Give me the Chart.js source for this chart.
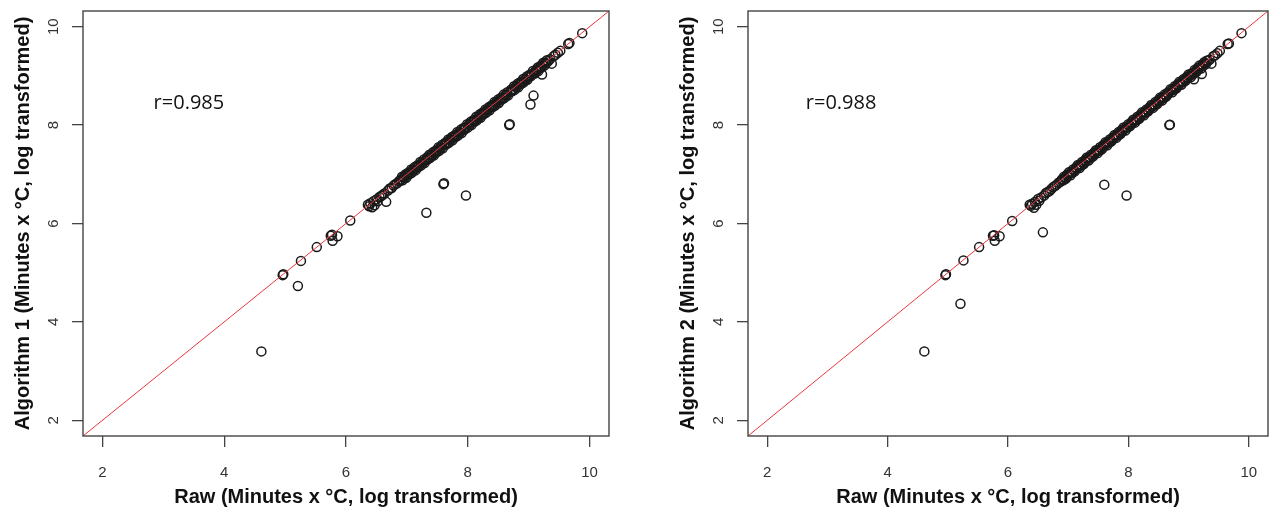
<!DOCTYPE html>
<html>
<head>
<meta charset="utf-8">
<script src="https://cdn.jsdelivr.net/npm/chart.js@4/dist/chart.umd.min.js"></script>
<style>
  body { margin: 0; background: #fff; }
  #wrap { position: relative; width: 1274px; height: 509px; }
  #left { position: absolute; left: 0; top: 0; }
  #right { position: absolute; left: 665px; top: 0; }
</style>
</head>
<body>
<div id="wrap">
  <canvas id="left" width="637" height="509"></canvas>
  <canvas id="right" width="609" height="509"></canvas>
</div>
<script>
// axis range and ticks (R style, 4% extension)
var axisMin = 1.68;
var axisMax = 10.32;
var tickValues = [2, 4, 6, 8, 10];

var xTitle = "Raw (Minutes x °C, log transformed)";
var yTitles = ["Algorithm 1 (Minutes x °C, log transformed)", "Algorithm 2 (Minutes x °C, log transformed)"];
var rLabels = ["r=0.985", "r=0.988"];
var rPos = [[2.84, 8.44], [2.64, 8.44]];

// raw value of each sample, and the two algorithm values for it
var rawValues = [
  // low end
  4.61, 4.96, 4.97, 5.21, 5.26, 5.52, 5.75, 5.77, 5.78, 5.86, 6.07,
  6.36, 6.38, 6.40, 6.43, 6.45, 6.47, 6.50, 6.52, 6.55, 6.58, 6.60, 6.63, 6.66, 6.69, 6.72,
  6.75, 6.78, 6.81, 6.84, 6.87, 6.89,
  // dense band
  6.90, 6.92, 6.93, 6.95, 6.96, 6.98, 6.99, 7.01, 7.02, 7.04,
  7.05, 7.07, 7.08, 7.10, 7.11, 7.13, 7.14, 7.16, 7.17, 7.19,
  7.20, 7.22, 7.23, 7.25, 7.26, 7.28, 7.29, 7.31, 7.33, 7.34,
  7.35, 7.37, 7.38, 7.40, 7.41, 7.43, 7.44, 7.46, 7.47, 7.49,
  7.50, 7.52, 7.53, 7.55, 7.56, 7.58, 7.59, 7.62, 7.63, 7.65,
  7.66, 7.68, 7.69, 7.71, 7.72, 7.74, 7.75, 7.77, 7.78, 7.80,
  7.81, 7.83, 7.84, 7.86, 7.87, 7.89, 7.90, 7.92, 7.93, 7.95,
  7.96, 7.99, 8.00, 8.02, 8.03, 8.05, 8.06, 8.08, 8.09, 8.11,
  8.12, 8.14, 8.15, 8.17, 8.18, 8.20, 8.21, 8.23, 8.24, 8.26,
  8.27, 8.29, 8.30, 8.32, 8.33, 8.35, 8.36, 8.38, 8.39, 8.41,
  8.42, 8.44, 8.45, 8.47, 8.48, 8.50, 8.51, 8.53, 8.54, 8.56,
  8.57, 8.59, 8.60, 8.62, 8.63, 8.65, 8.66, 8.70, 8.71, 8.73,
  8.74, 8.76, 8.77, 8.79, 8.80, 8.82, 8.83, 8.85, 8.86, 8.88,
  8.89, 8.91, 8.92, 8.94, 8.95, 8.97, 8.98, 9.00, 9.01, 9.04,
  9.05, 9.07, 9.10, 9.12, 9.13, 9.15, 9.16, 9.18, 9.19, 9.21,
  9.23, 9.24, 9.26, 9.27, 9.29, 9.30,
  // outliers and top end
  7.32, 7.60, 7.61, 7.97, 8.68, 8.69, 9.03, 9.08, 9.09, 9.22,
  9.32, 9.35, 9.38, 9.41, 9.44, 9.48, 9.52, 9.65, 9.67, 9.88
];
var algorithm1 = [
  3.40, 4.95, 4.97, 4.73, 5.24, 5.52, 5.75, 5.77, 5.65, 5.74, 6.06,
  6.38, 6.35, 6.41, 6.33, 6.45, 6.37, 6.49, 6.45, 6.54, 6.56, 6.58, 6.61, 6.44, 6.67, 6.71,
  6.72, 6.77, 6.80, 6.82, 6.86, 6.87,
  6.89, 6.95, 6.88, 6.95, 6.93, 7.00, 6.93, 6.99, 7.03, 7.00,
  7.04, 7.10, 7.03, 7.10, 7.08, 7.15, 7.08, 7.14, 7.18, 7.15,
  7.19, 7.25, 7.18, 7.25, 7.23, 7.30, 7.23, 7.29, 7.34, 7.30,
  7.34, 7.40, 7.33, 7.40, 7.38, 7.45, 7.38, 7.44, 7.48, 7.45,
  7.49, 7.55, 7.48, 7.55, 7.53, 7.60, 7.53, 7.60, 7.64, 7.61,
  7.65, 7.71, 7.64, 7.71, 7.69, 7.76, 7.69, 7.75, 7.79, 7.76,
  7.80, 7.86, 7.79, 7.86, 7.84, 7.91, 7.84, 7.90, 7.94, 7.91,
  7.95, 8.02, 7.95, 8.02, 8.00, 8.07, 8.00, 8.06, 8.10, 8.07,
  8.11, 8.17, 8.10, 8.17, 8.15, 8.22, 8.15, 8.21, 8.25, 8.22,
  8.26, 8.32, 8.25, 8.32, 8.30, 8.37, 8.30, 8.36, 8.40, 8.37,
  8.41, 8.47, 8.40, 8.47, 8.45, 8.52, 8.45, 8.51, 8.55, 8.52,
  8.56, 8.62, 8.55, 8.62, 8.60, 8.67, 8.60, 8.68, 8.72, 8.69,
  8.73, 8.79, 8.72, 8.79, 8.77, 8.84, 8.77, 8.83, 8.87, 8.84,
  8.88, 8.94, 8.87, 8.94, 8.92, 8.99, 8.92, 8.98, 9.02, 9.00,
  9.04, 9.10, 9.05, 9.12, 9.10, 9.17, 9.10, 9.16, 9.20, 9.17,
  9.22, 9.27, 9.21, 9.27, 9.26, 9.32,
  6.22, 6.80, 6.82, 6.57, 8.00, 8.02, 8.42, 8.60, 9.07, 9.03,
  9.30, 9.34, 9.25, 9.40, 9.43, 9.47, 9.51, 9.65, 9.67, 9.87
];
var algorithm2 = [
  3.40, 4.95, 4.97, 4.37, 5.25, 5.52, 5.75, 5.76, 5.65, 5.74, 6.05,
  6.38, 6.36, 6.40, 6.32, 6.44, 6.38, 6.50, 6.46, 6.53, 5.82, 6.57, 6.62, 6.64, 6.66, 6.70,
  6.74, 6.76, 6.79, 6.83, 6.85, 6.88,
  6.90, 6.88, 6.95, 6.93, 6.91, 6.99, 6.96, 7.04, 7.01, 6.98,
  7.05, 7.03, 7.10, 7.08, 7.06, 7.14, 7.11, 7.19, 7.16, 7.13,
  7.20, 7.18, 7.25, 7.23, 7.21, 7.29, 7.26, 7.34, 7.32, 7.28,
  7.35, 7.33, 7.40, 7.38, 7.36, 7.44, 7.41, 7.49, 7.46, 7.43,
  7.50, 7.48, 7.55, 7.53, 7.51, 7.59, 7.56, 7.65, 7.62, 7.59,
  7.66, 7.64, 7.71, 7.69, 7.67, 7.75, 7.72, 7.80, 7.77, 7.74,
  7.81, 7.79, 7.86, 7.84, 7.82, 7.90, 7.87, 7.95, 7.92, 7.89,
  7.96, 7.95, 8.02, 8.00, 7.98, 8.06, 8.03, 8.11, 8.08, 8.05,
  8.12, 8.10, 8.17, 8.15, 8.13, 8.21, 8.18, 8.26, 8.23, 8.20,
  8.27, 8.25, 8.32, 8.30, 8.28, 8.36, 8.33, 8.41, 8.38, 8.35,
  8.42, 8.40, 8.47, 8.45, 8.43, 8.51, 8.48, 8.56, 8.53, 8.50,
  8.57, 8.55, 8.62, 8.60, 8.58, 8.66, 8.63, 8.73, 8.70, 8.67,
  8.74, 8.72, 8.79, 8.77, 8.75, 8.83, 8.80, 8.88, 8.85, 8.82,
  8.89, 8.87, 8.94, 8.92, 8.90, 8.98, 8.95, 9.03, 9.00, 8.98,
  9.05, 9.03, 9.12, 9.10, 9.08, 9.16, 9.13, 9.21, 9.18, 9.15,
  9.23, 9.20, 9.28, 9.25, 9.24, 9.31,
  7.31, 6.79, 7.60, 6.57, 8.00, 8.01, 9.02, 9.06, 8.93, 9.04,
  9.31, 9.33, 9.25, 9.40, 9.42, 9.46, 9.51, 9.65, 9.66, 9.87
];

var tickFont = { family: "'Liberation Sans', Arial, sans-serif", size: 15 };
var titleFont = { family: "'Liberation Sans', Arial, sans-serif", size: 20, weight: "bold" };

// frame around the plot + the r= note
var framePlugin = {
  id: "frame",
  afterDatasetsDraw: function (chart) {
    var ca = chart.chartArea;
    var ctx = chart.ctx;
    ctx.save();
    ctx.strokeStyle = "#444";
    ctx.lineWidth = 1.4;
    ctx.strokeRect(ca.left, ca.top, ca.right - ca.left, ca.bottom - ca.top);
    var p = chart.options.plugins.frame;
    ctx.fillStyle = "#111";
    ctx.font = "20px 'Open Sans', sans-serif";
    ctx.textAlign = "left";
    ctx.textBaseline = "middle";
    ctx.fillText(p.label, chart.scales.x.getPixelForValue(p.at[0]), chart.scales.y.getPixelForValue(p.at[1]));
    ctx.restore();
  }
};

function makeChart(id, yValues, panel, padRight) {
  var pts = rawValues.map(function (x, i) { return { x: x, y: yValues[i] }; });
  return new Chart(id, {
    type: "scatter",
    data: {
      datasets: [{
        type: "line",
        data: [{ x: axisMin, y: axisMin }, { x: axisMax, y: axisMax }],
        borderColor: "#e8383a",
        borderWidth: 1,
        pointRadius: 0
      }, {
        data: pts,
        pointRadius: 4.5,
        pointBorderWidth: 1.5,
        pointBorderColor: "#1a1a1a",
        pointBackgroundColor: "rgba(0,0,0,0)"
      }]
    },
    plugins: [framePlugin],
    options: {
      responsive: false,
      devicePixelRatio: 1,
      animation: false,
      layout: { padding: { top: 11, right: padRight, bottom: 0, left: 0 } },
      plugins: {
        legend: { display: false },
        tooltip: { enabled: false },
        frame: { label: rLabels[panel], at: rPos[panel] }
      },
      scales: {
        x: {
          type: "linear",
          min: axisMin,
          max: axisMax,
          afterBuildTicks: function (s) { s.ticks = tickValues.map(function (v) { return { value: v }; }); },
          afterFit: function (s) { s.height = 73; s.paddingLeft = 0; s.paddingRight = 0; },
          grid: { drawOnChartArea: false, drawTicks: true, tickLength: 11, color: "#444", lineWidth: 1.3 },
          border: { display: false },
          ticks: { font: tickFont, color: "#333", padding: 17, maxRotation: 0 },
          title: { display: true, text: xTitle, font: titleFont, color: "#111", padding: 0 }
        },
        y: {
          type: "linear",
          min: axisMin,
          max: axisMax,
          afterBuildTicks: function (s) { s.ticks = tickValues.map(function (v) { return { value: v }; }); },
          afterFit: function (s) { s.width = 83; s.paddingTop = 0; s.paddingBottom = 0; },
          grid: { drawOnChartArea: false, drawTicks: true, tickLength: 11, color: "#444", lineWidth: 1.3 },
          border: { display: false },
          ticks: { font: tickFont, color: "#333", padding: 10, minRotation: 90, maxRotation: 90, crossAlign: "center" },
          title: { display: true, text: yTitles[panel], font: titleFont, color: "#111", padding: { top: 11, bottom: 0 } }
        }
      }
    }
  });
}

makeChart("left", algorithm1, 0, 28);
makeChart("right", algorithm2, 1, 0);
</script>
</body>
</html>
